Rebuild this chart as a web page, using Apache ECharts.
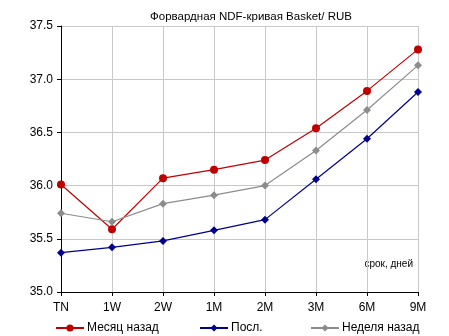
<!DOCTYPE html>
<html><head><meta charset="utf-8">
<script src="https://cdn.jsdelivr.net/npm/echarts@6/dist/echarts.min.js"></script>
<style>html,body{margin:0;padding:0;background:#fff}#c{width:449px;height:336px}</style>
</head><body><div id="c"></div>
<script>
var categories = ['TN','1W','2W','1M','2M','3M','6M','9M'];
var monthAgo = [36.01, 35.59, 36.07, 36.15, 36.24, 36.54, 36.89, 37.28];
var latest = [35.37, 35.42, 35.48, 35.58, 35.68, 36.06, 36.44, 36.88];
var weekAgo = [35.74, 35.66, 35.83, 35.91, 36.00, 36.33, 36.71, 37.13];
var names = ['Месяц назад','Посл.','Неделя назад'];
var yTicks = {min:35.0, max:37.5, interval:0.5};

var font = 'Liberation Sans, Arial, sans-serif';
var chart = echarts.init(document.getElementById('c'), null, {renderer:'canvas'});
function lg(name, left){
  return {data:[name], left:left, top:322, itemWidth:28, itemHeight:9, itemGap:0,
    textStyle:{fontFamily:font, fontSize:12, color:'#000', padding:[0,0,0,-2]}, padding:0};
}
chart.setOption({
  animation:false,
  title:{text:'Форвардная NDF-кривая Basket/ RUB', left:246, textAlign:'center', top:6,
    textStyle:{fontFamily:font, fontSize:11.5, fontWeight:'normal', color:'#000'}},
  legend:[lg(names[0],55), lg(names[1],199), lg(names[2],310)],
  grid:{left:61, right:31, top:26, bottom:44},
  xAxis:{type:'category', data:categories, boundaryGap:false,
    axisLine:{lineStyle:{color:'#000', width:1}},
    axisTick:{show:true, length:4, alignWithLabel:true, lineStyle:{color:'#000'}},
    axisLabel:{fontFamily:font, fontSize:12, color:'#000', margin:10},
    splitLine:{show:true, lineStyle:{color:'#c8c8c8', width:1}}},
  yAxis:{type:'value', min:yTicks.min, max:yTicks.max, interval:yTicks.interval,
    axisLine:{show:true, lineStyle:{color:'#000', width:1}},
    axisTick:{show:true, length:4, lineStyle:{color:'#000'}},
    axisLabel:{fontFamily:font, fontSize:12, color:'#000', margin:8,
      formatter:function(v){return v.toFixed(1);}},
    splitLine:{show:true, lineStyle:{color:'#c8c8c8', width:1}}},
  graphic:[{type:'text', right:36, top:259, style:{text:'срок, дней', font:'10px '+font, fill:'#000'}}],
  series:[
    {name:names[0], type:'line', data:monthAgo, symbol:'circle', symbolSize:8,
      lineStyle:{color:'#c00000', width:1.2}, itemStyle:{color:'#c00000'}, color:'#c00000'},
    {name:names[1], type:'line', data:latest, symbol:'diamond', symbolSize:8,
      lineStyle:{color:'#000090', width:1.2}, itemStyle:{color:'#000090'}, color:'#000090'},
    {name:names[2], type:'line', data:weekAgo, symbol:'diamond', symbolSize:8,
      lineStyle:{color:'#8c8c8c', width:1.2}, itemStyle:{color:'#8c8c8c'}, color:'#8c8c8c'}
  ]
});
</script></body></html>
